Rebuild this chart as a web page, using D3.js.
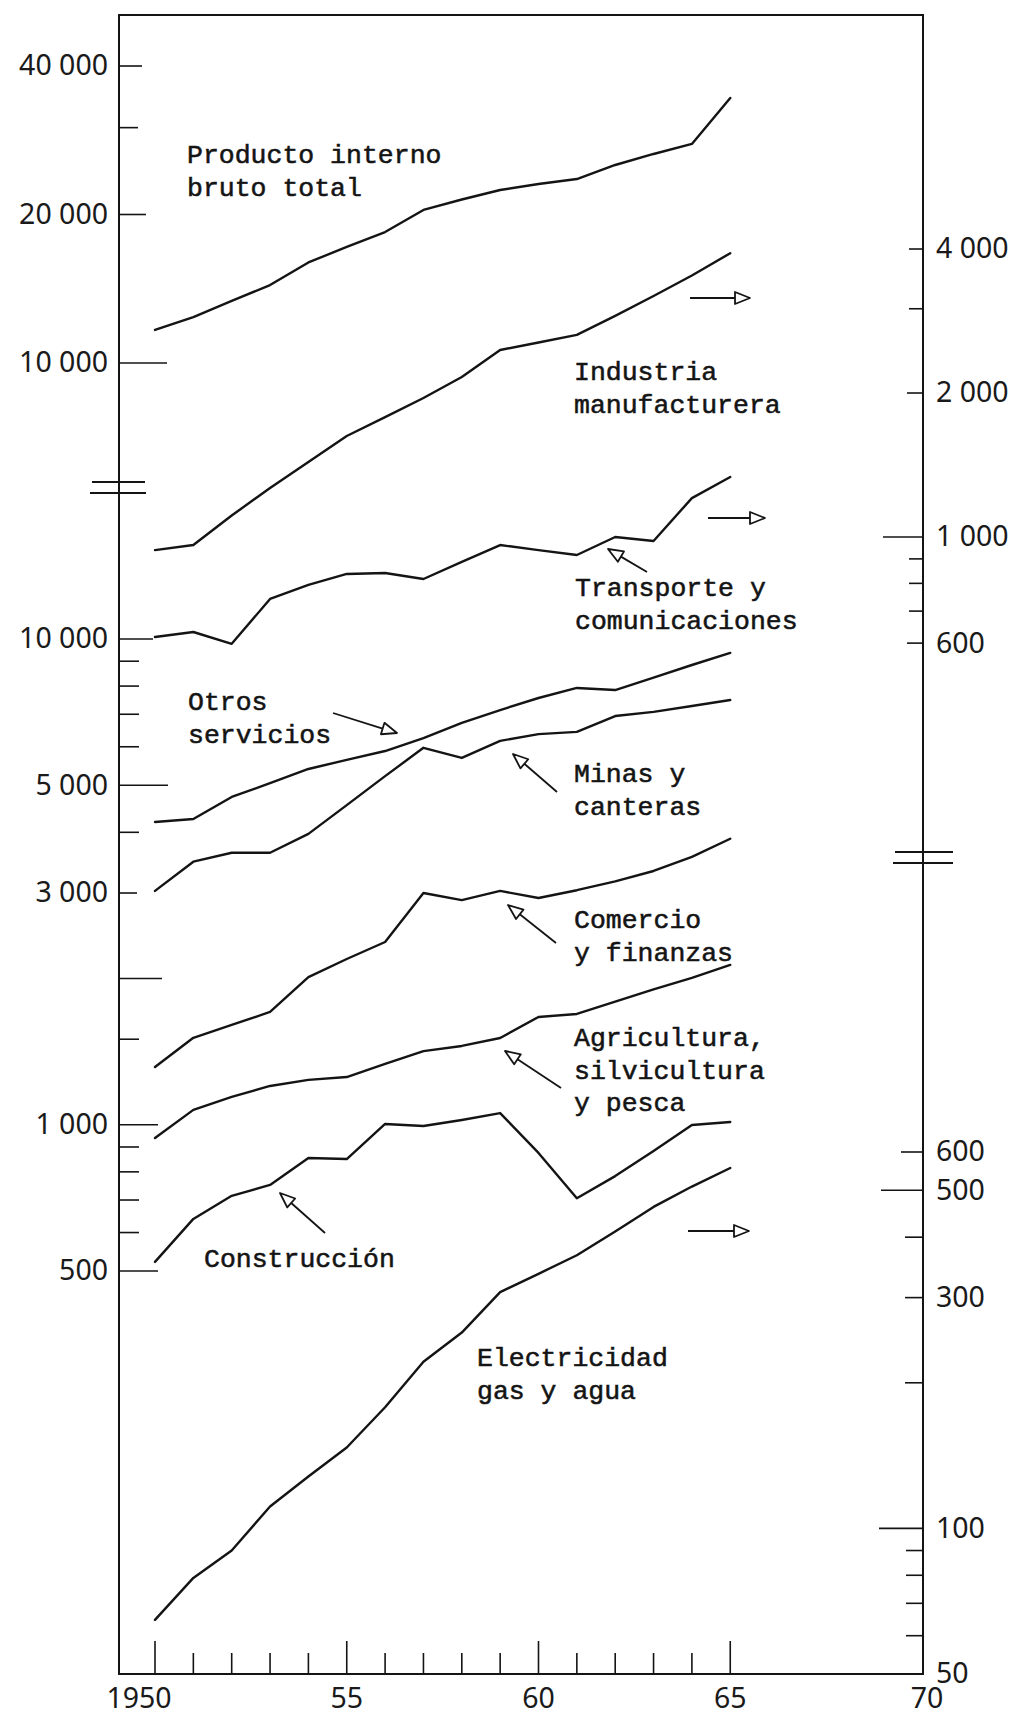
<!DOCTYPE html>
<html><head><meta charset="utf-8">
<script src="https://cdn.jsdelivr.net/npm/d3@7"></script>
<style>
html,body{margin:0;padding:0;background:#fff;}
svg{display:block;background:#fff;}
.tw{font-family:"Liberation Mono","Courier New",monospace;font-size:26.5px;fill:#141414;stroke:#141414;stroke-width:0.55px;}
.num{font-family:"Noto Sans","DejaVu Sans",sans-serif;font-size:28.5px;fill:#1a1a1a;}
</style></head><body>
<svg id="chart" width="1030" height="1715"></svg>
<script>
// ---------- DATA ----------
const years = [1950,1951,1952,1953,1954,1955,1956,1957,1958,1959,1960,1961,1962,1963,1964,1965];

const pib          = [11670,12390,13360,14390,15990,17190,18430,20430,21450,22420,23060,23600,25200,26530,27800,34450];
const industria    = [939,962,1109,1266,1435,1626,1781,1952,2160,2460,2550,2645,2900,3190,3520,3920];
const transporte   = [618,633,598,742,794,837,841,817,887,962,939,917,1000,981,1206,1335];
const otros        = [4200,4260,4730,5050,5400,5640,5880,6250,6720,7140,7560,7930,7850,8330,8840,9360];
const minas        = [3030,3480,3630,3630,3970,4550,5220,5970,5690,6170,6370,6440,6940,7080,7280,7490];
const comercio     = [1315,1510,1605,1707,2014,2194,2378,3000,2900,3030,2930,3040,3170,3330,3560,3880];
const agricultura  = [939,1073,1141,1202,1237,1254,1334,1418,1453,1509,1667,1691,1792,1899,2006,2133];
const construccion = [522,640,714,752,854,850,1004,994,1023,1057,875,706,784,883,999,1013];
const electricidad = [64.7,79,90,111,128,147,178,221,254,308,336,367,411,462,509,556];

const xTickYears   = [1950,1951,1952,1953,1954,1955,1956,1957,1958,1959,1960,1961,1962,1963,1964,1965];
const xMajorYears  = [1950,1955,1960,1965];
const xLabelYears  = [1950,1955,1960,1965,1970];
const xLabelText   = ["1950","55","60","65","70"];

const leftTopTicks   = [40000,30000,20000,10000];
const leftTopLabels  = [40000,20000,10000];
const leftMidTicks   = [10000,9000,8000,7000,6000,5000,4000,3000,2000,1500,1000,900,800,700,600,500];
const leftMidLabels  = [10000,5000,3000,1000,500];
const rightTopTicks  = [4000,3000,2000,1000,900,800,700,600];
const rightTopLabels = [4000,2000,1000,600];
const rightBotTicks  = [600,500,400,300,200,100,90,80,70,60,50];
const rightBotLabels = [600,500,300,100,50];

const seriesNames = {
  pib: ["Producto interno","bruto total"],
  industria: ["Industria","manufacturera"],
  transporte: ["Transporte y","comunicaciones"],
  otros: ["Otros","servicios"],
  minas: ["Minas y","canteras"],
  comercio: ["Comercio","y finanzas"],
  agricultura: ["Agricultura,","silvicultura","y pesca"],
  construccion: ["Construcción"],
  electricidad: ["Electricidad","gas y agua"]
};

// ---------- LAYOUT ----------
const svg = d3.select("#chart");
const L = {left:119, right:923, top:15, bottom:1674};
const x = d3.scaleLinear().domain([1950,1970]).range([155,922]);

const yLeftTop  = d3.scaleLog().domain([10000,40000]).range([363,66]);
const yLeftMid  = d3.scaleLog().domain([500,10000]).range([1271,639]);
const yRightTop = d3.scaleLog().domain([1000,4000]).range([537,249]);
const yRightBot = d3.scaleLog().domain([50,600]).range([1674,1152]);

const fmt = d3.formatLocale({decimal:",",thousands:" ",grouping:[3],currency:["",""]}).format(",");
const ink = "#141414";

// frame
svg.append("path")
  .attr("d",`M${L.left},${L.top}H${L.right}V${L.bottom}H${L.left}Z`)
  .attr("fill","none").attr("stroke",ink).attr("stroke-width",2);

// axis ticks
function leftTicks(scale, ticks, labels, lenMap){
  const g = svg.append("g");
  g.selectAll("line").data(ticks).join("line")
    .attr("x1",L.left).attr("x2",d=>L.left+(lenMap[d]||20))
    .attr("y1",d=>scale(d)).attr("y2",d=>scale(d))
    .attr("stroke",ink).attr("stroke-width",1.6);
  g.selectAll("text").data(labels).join("text")
    .attr("class","num").attr("x",L.left-11).attr("y",d=>scale(d)).attr("dy","0.33em")
    .attr("text-anchor","end").text(d=>fmt(d));
}
function rightTicks(scale, ticks, labels, lenMap){
  const g = svg.append("g");
  g.selectAll("line").data(ticks).join("line")
    .attr("x1",d=>L.right-(lenMap[d]||17)).attr("x2",L.right)
    .attr("y1",d=>scale(d)).attr("y2",d=>scale(d))
    .attr("stroke",ink).attr("stroke-width",1.6);
  g.selectAll("text").data(labels).join("text")
    .attr("class","num").attr("x",L.right+13).attr("y",d=>scale(d)).attr("dy","0.33em")
    .attr("text-anchor","start").text(d=>fmt(d));
}
leftTicks(yLeftTop, leftTopTicks, leftTopLabels, {40000:23,30000:19,20000:27,10000:48});
leftTicks(yLeftMid, leftMidTicks, leftMidLabels, {10000:34,5000:49,3000:18,2000:43,1000:39,500:39});
rightTicks(yRightTop, rightTopTicks, rightTopLabels, {4000:14,3000:14,2000:16,1000:40,900:14,800:14,700:14,600:16});
rightTicks(yRightBot, rightBotTicks, rightBotLabels, {600:22,500:42,400:18,300:18,200:18,100:44});

// x ticks
svg.append("g").selectAll("line").data(xTickYears).join("line")
  .attr("x1",d=>x(d)).attr("x2",d=>x(d))
  .attr("y1",L.bottom).attr("y2",d=>L.bottom-(xMajorYears.includes(d)?33:21))
  .attr("stroke",ink).attr("stroke-width",1.6);
svg.append("g").selectAll("text").data(xLabelYears).join("text")
  .attr("class","num").attr("text-anchor","middle")
  .attr("x",(d,i)=>x(d)+(i===0?-16:(i===4?5:0))).attr("y",1708)
  .text((d,i)=>xLabelText[i]);

// scale breaks
[[92,145,482],[90,146,493],[895,953,852],[893,953,863]].forEach(b=>{
  svg.append("line").attr("x1",b[0]).attr("x2",b[1]).attr("y1",b[2]).attr("y2",b[2])
    .attr("stroke",ink).attr("stroke-width",1.8);
});

// series lines
const series = [
  {key:"pib", values:pib, scale:yLeftTop},
  {key:"industria", values:industria, scale:yRightTop},
  {key:"transporte", values:transporte, scale:yRightTop},
  {key:"otros", values:otros, scale:yLeftMid},
  {key:"minas", values:minas, scale:yLeftMid},
  {key:"comercio", values:comercio, scale:yLeftMid},
  {key:"agricultura", values:agricultura, scale:yLeftMid},
  {key:"construccion", values:construccion, scale:yLeftMid},
  {key:"electricidad", values:electricidad, scale:yRightBot}
];
series.forEach(s=>{
  const line = d3.line().x((d,i)=>x(years[i])).y(d=>s.scale(d));
  svg.append("path").datum(s.values).attr("d",line)
    .attr("fill","none").attr("stroke",ink).attr("stroke-width",2.4)
    .attr("stroke-linejoin","round").attr("stroke-linecap","round");
});

// labels
const labelPos = {
  pib:[187,163], industria:[574,380], transporte:[575,596], otros:[188,710],
  minas:[574,782], comercio:[574,928], agricultura:[574,1046],
  construccion:[204,1267], electricidad:[477,1366]
};
Object.keys(seriesNames).forEach(k=>{
  const t = svg.append("text").attr("class","tw");
  seriesNames[k].forEach((ln,i)=>{
    t.append("tspan").attr("x",labelPos[k][0]).attr("y",labelPos[k][1]+i*32.5).text(ln);
  });
});

// arrows
function arrow(x1,y1,x2,y2){
  const a = Math.atan2(y2-y1,x2-x1), hl=15, hw=6;
  const bx = x2-hl*Math.cos(a), by = y2-hl*Math.sin(a);
  const px = -Math.sin(a)*hw, py = Math.cos(a)*hw;
  svg.append("line").attr("x1",x1).attr("y1",y1).attr("x2",bx).attr("y2",by)
    .attr("stroke",ink).attr("stroke-width",1.8);
  svg.append("path").attr("d",`M${x2},${y2}L${bx+px},${by+py}L${bx-px},${by-py}Z`)
    .attr("fill","#fff").attr("stroke",ink).attr("stroke-width",1.8).attr("stroke-linejoin","round");
}
arrow(690,298,750,298);
arrow(708,518,765,518);
arrow(688,1231,749,1231);
arrow(333,713,397,733);
arrow(647,572,608,549);
arrow(557,792,513,754);
arrow(556,943,508,905);
arrow(561,1088,505,1051);
arrow(325,1233,280,1193);
</script></body></html>
